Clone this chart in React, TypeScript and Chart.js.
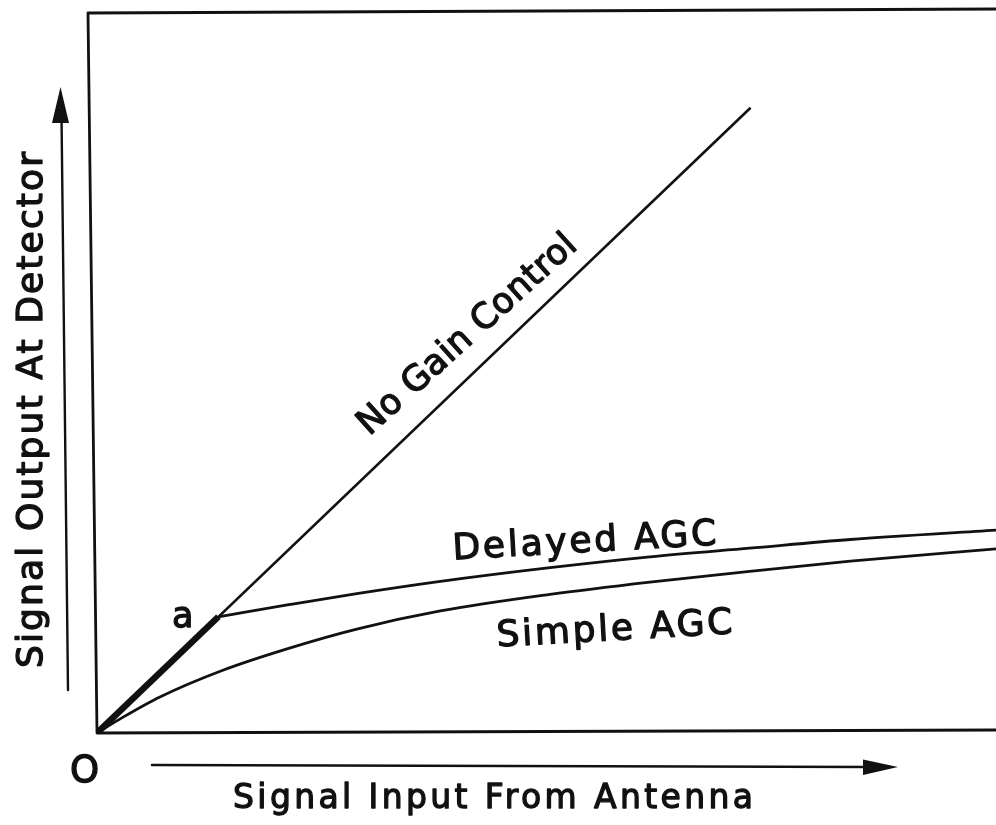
import React, { useEffect, useRef } from "react";
import { Chart, registerables } from "chart.js";

Chart.register(...registerables);

// ---- data (arbitrary linear units 0..100 on both axes) ----
const noGainX = [0, 72.7];
const noGainY = [0, 86.6];
const delayRegionX = [0, 13.5];
const delayRegionY = [0, 16.1];
const delayedX = [13.5, 21.5, 28.9, 38.2, 50.4, 61.5, 72.6, 83.8, 100];
const delayedY = [16.1, 17.8, 19.3, 21.0, 22.9, 24.4, 25.6, 26.8, 28.1];
const simpleX = [0, 2.9, 7.0, 14.0, 21.5, 28.9, 38.2, 50.4, 61.5, 72.6, 83.8, 100];
const simpleY = [0, 2.2, 5.0, 8.7, 11.8, 14.4, 16.9, 19.2, 20.9, 22.4, 23.8, 25.5];

const seriesNames = ["No Gain Control", "Delayed AGC", "Simple AGC"];
const pointLabel = "a";
const originLabel = "O";
const xTitle = "Signal Input From Antenna";
const yTitle = "Signal Output At Detector";

const FONT = '"DejaVu Sans"';

function pts(xs: number[], ys: number[]) {
  return xs.map((x, i) => ({ x, y: ys[i] }));
}

function drawFitted(
  ctx: CanvasRenderingContext2D,
  text: string,
  cx: number,
  baseY: number,
  angle: number,
  size: number,
  width: number
) {
  ctx.save();
  ctx.translate(cx, baseY);
  ctx.rotate(angle);
  ctx.font = `normal ${size}px ${FONT}`;
  (ctx as any).letterSpacing = "0px";
  const w = ctx.measureText(text).width;
  const sp = text.length > 1 ? (width - w) / (text.length - 1) : 0;
  (ctx as any).letterSpacing = `${sp}px`;
  ctx.textAlign = "left";
  ctx.textBaseline = "alphabetic";
  ctx.fillStyle = "#111";
  ctx.strokeStyle = "#111";
  ctx.lineWidth = 1.3;
  ctx.lineJoin = "round";
  ctx.fillText(text, -width / 2, 0);
  ctx.strokeText(text, -width / 2, 0);
  ctx.restore();
}

const decorPlugin = {
  id: "decor",
  afterDatasetsDraw(chart: any) {
    const ctx: CanvasRenderingContext2D = chart.ctx;
    const { left, right, top, bottom } = chart.chartArea;
    ctx.save();
    ctx.strokeStyle = "#111";
    ctx.fillStyle = "#111";
    ctx.lineCap = "round";
    ctx.lineJoin = "round";

    // frame
    ctx.lineWidth = 2.8;
    ctx.beginPath();
    ctx.moveTo(right, top - 2);
    ctx.lineTo(left - 9, top + 2);
    ctx.lineTo(left, bottom);
    ctx.lineTo(right, bottom - 3);
    ctx.stroke();

    // y arrow
    ctx.lineWidth = 2.4;
    ctx.beginPath();
    ctx.moveTo(68, 690);
    ctx.lineTo(61.5, 115);
    ctx.stroke();
    ctx.beginPath();
    ctx.moveTo(60.5, 87);
    ctx.lineTo(69, 123);
    ctx.lineTo(52, 123);
    ctx.closePath();
    ctx.fill();

    // x arrow
    ctx.beginPath();
    ctx.moveTo(152, 765);
    ctx.lineTo(870, 767);
    ctx.stroke();
    ctx.beginPath();
    ctx.moveTo(898, 767);
    ctx.lineTo(863, 759.5);
    ctx.lineTo(863, 775);
    ctx.closePath();
    ctx.fill();
    ctx.restore();

    // labels
    drawFitted(ctx, seriesNames[0], 474, 342, (-42 * Math.PI) / 180, 35, 282);
    drawFitted(ctx, seriesNames[1], 585, 552, (-3.25 * Math.PI) / 180, 36, 264);
    drawFitted(ctx, seriesNames[2], 615, 640, (-3.2 * Math.PI) / 180, 36, 236);
    drawFitted(ctx, pointLabel, 181, 627, 0, 35, 18);
    drawFitted(ctx, originLabel, 82.5, 782, 0, 37, 25);
    drawFitted(ctx, xTitle, 493, 808, 0, 33, 520);
    drawFitted(ctx, yTitle, 42, 410, -Math.PI / 2, 36, 516);
  },
};

export default function App() {
  const ref = useRef<HTMLCanvasElement | null>(null);

  useEffect(() => {
    if (!ref.current) return;
    const chart = new Chart(ref.current, {
      type: "line",
      data: {
        datasets: [
          {
            label: seriesNames[0],
            data: pts(noGainX, noGainY),
            borderColor: "#111",
            borderWidth: 2.6,
            pointRadius: 0,
            tension: 0,
          },
          {
            label: "delay region",
            data: pts(delayRegionX, delayRegionY),
            borderColor: "#111",
            borderWidth: 6.5,
            pointRadius: 0,
            tension: 0,
          },
          {
            label: seriesNames[1],
            data: pts(delayedX, delayedY),
            borderColor: "#111",
            borderWidth: 2.8,
            pointRadius: 0,
            cubicInterpolationMode: "monotone",
          },
          {
            label: seriesNames[2],
            data: pts(simpleX, simpleY),
            borderColor: "#111",
            borderWidth: 2.8,
            pointRadius: 0,
            cubicInterpolationMode: "monotone",
          },
        ],
      },
      options: {
        animation: false,
        responsive: false,
        devicePixelRatio: 1,
        layout: { padding: { left: 97, top: 11, right: 0, bottom: 92 } },
        scales: {
          x: { type: "linear", min: 0, max: 100, display: false },
          y: { type: "linear", min: 0, max: 100, display: false },
        },
        plugins: {
          legend: { display: false },
          tooltip: { enabled: false },
        },
      } as any,
      plugins: [decorPlugin],
    });
    return () => chart.destroy();
  }, []);

  return (
    <div
      style={{
        position: "fixed",
        left: 0,
        top: 0,
        width: 996,
        height: 825,
        background: "#fff",
      }}
    >
      <canvas ref={ref} width={996} height={825} />
    </div>
  );
}
